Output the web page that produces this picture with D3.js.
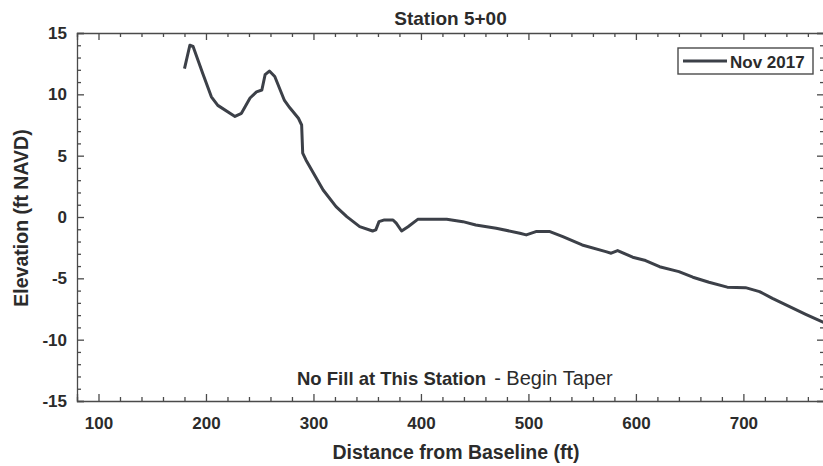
<html>
<head>
<meta charset="utf-8">
<script src="https://d3js.org/d3.v7.min.js"></script>
<title>Station 5+00</title>
<style>
  body { margin: 0; background: #fff; }
  svg text { font-family: "Liberation Sans", Arial, sans-serif; fill: #2b2b2b; }
  .axis path, .axis line { stroke: #4a4a4a; stroke-width: 1.3; }
</style>
</head>
<body>
<div id="chart"></div>
<script>
const distance = [180, 185, 188, 197, 205, 211, 227, 233, 241, 247, 252, 255, 259, 264, 273, 278,
  286, 289, 290, 293, 309, 321, 331, 343, 355, 358, 361, 366, 374, 377, 382, 388, 397, 424, 439,
  451, 470, 492, 498, 507, 520, 532, 550, 572, 577, 583, 597, 609, 622, 640, 653, 668, 685, 702,
  715, 727, 743, 758, 773, 785];
const elevation = [12.1, 14.0, 13.9, 11.7, 9.8, 9.1, 8.2, 8.45, 9.7, 10.2, 10.35, 11.6, 11.9, 11.45,
  9.5, 8.9, 8.05, 7.5, 5.2, 4.65, 2.2, 0.85, 0.03, -0.79, -1.14, -1.05, -0.38, -0.24, -0.24, -0.5,
  -1.14, -0.79, -0.19, -0.19, -0.38, -0.65, -0.92, -1.32, -1.46, -1.19, -1.19, -1.6, -2.28, -2.82,
  -2.95, -2.74, -3.28, -3.55, -4.05, -4.45, -4.91, -5.32, -5.72, -5.76, -6.08, -6.63, -7.3, -7.93,
  -8.53, -9.0];
const xTicks = [100, 200, 300, 400, 500, 600, 700];
const yTicks = [-15, -10, -5, 0, 5, 10, 15];
const seriesName = "Nov 2017";

const W = 823, H = 466;
const mLeft = 77, mRight = 824, mTop = 33, mBottom = 401;

const svg = d3.select("#chart").append("svg")
  .attr("width", W).attr("height", H);

const x = d3.scaleLinear().domain([80, 775]).range([mLeft, mRight]);
const y = d3.scaleLinear().domain([-15, 15]).range([mBottom, mTop]);

const xMinor = d3.range(80, 776, 20).filter(v => v % 100 !== 0);
const yMinor = d3.range(-15, 16, 1).filter(v => v % 5 !== 0);

// major + minor ticks on all four sides, pointing inward
function ticks(axisFn, pos, vals, size, labels) {
  const g = svg.append("g").attr("class", "axis").attr("transform", pos)
    .call(axisFn.tickValues(vals).tickSize(-size)
      .tickFormat(labels ? (d => String(d)) : ""));
  return g;
}

const bx = ticks(d3.axisBottom(x).tickPadding(16), `translate(0,${mBottom})`, xTicks, 7, true);
bx.selectAll("text").style("font-size", "17px").style("font-weight", "bold");
ticks(d3.axisBottom(x), `translate(0,${mBottom})`, xMinor, 4, false).select(".domain").remove();
ticks(d3.axisTop(x), `translate(0,${mTop})`, xTicks, 7, false);
ticks(d3.axisTop(x), `translate(0,${mTop})`, xMinor, 4, false).select(".domain").remove();

const by = ticks(d3.axisLeft(y).tickPadding(10), `translate(${mLeft},0)`, yTicks, 7, true);
by.selectAll("text").style("font-size", "17px").style("font-weight", "bold");
ticks(d3.axisLeft(y), `translate(${mLeft},0)`, yMinor, 4, false).select(".domain").remove();
ticks(d3.axisRight(y), `translate(${mRight},0)`, yTicks, 7, false);
ticks(d3.axisRight(y), `translate(${mRight},0)`, yMinor, 4, false).select(".domain").remove();

svg.selectAll(".axis .domain").attr("stroke-width", 1.6);

svg.append("clipPath").attr("id", "clip")
  .append("rect").attr("x", mLeft).attr("y", mTop)
  .attr("width", mRight - mLeft).attr("height", mBottom - mTop);

const pts = distance.map((d, i) => [d, elevation[i]]);
svg.append("path")
  .datum(pts)
  .attr("clip-path", "url(#clip)")
  .attr("fill", "none")
  .attr("stroke", "#3c4048")
  .attr("stroke-width", 3)
  .attr("stroke-linejoin", "round")
  .attr("d", d3.line().x(d => x(d[0])).y(d => y(d[1])));

// title and axis labels
svg.append("text").attr("x", (mLeft + mRight) / 2).attr("y", 25)
  .attr("text-anchor", "middle").style("font-size", "19px").style("font-weight", "bold")
  .text("Station 5+00");

svg.append("text").attr("x", 456).attr("y", 459)
  .attr("text-anchor", "middle").style("font-size", "19.5px").style("font-weight", "bold")
  .text("Distance from Baseline (ft)");

svg.append("text").attr("transform", "translate(28,218) rotate(-90)")
  .attr("text-anchor", "middle").style("font-size", "19.5px").style("font-weight", "bold")
  .text("Elevation (ft NAVD)");

// note
const note = svg.append("text").attr("x", 297).attr("y", 385);
note.append("tspan").style("font-size", "18.5px").style("font-weight", "bold")
  .text("No Fill at This Station");
note.append("tspan").attr("dx", 8)
  .style("font-size", "20px")
  .text("- Begin Taper");

// legend
const lg = svg.append("g").attr("transform", "translate(678,48)");
lg.append("rect").attr("width", 135).attr("height", 26)
  .attr("fill", "#fff").attr("stroke", "#4a4a4a").attr("stroke-width", 1.4);
lg.append("line").attr("x1", 5).attr("x2", 49).attr("y1", 13).attr("y2", 13)
  .attr("stroke", "#3c4048").attr("stroke-width", 3);
lg.append("text").attr("x", 52).attr("y", 20)
  .style("font-size", "17px").style("font-weight", "bold").text(seriesName);
</script>
</body>
</html>
